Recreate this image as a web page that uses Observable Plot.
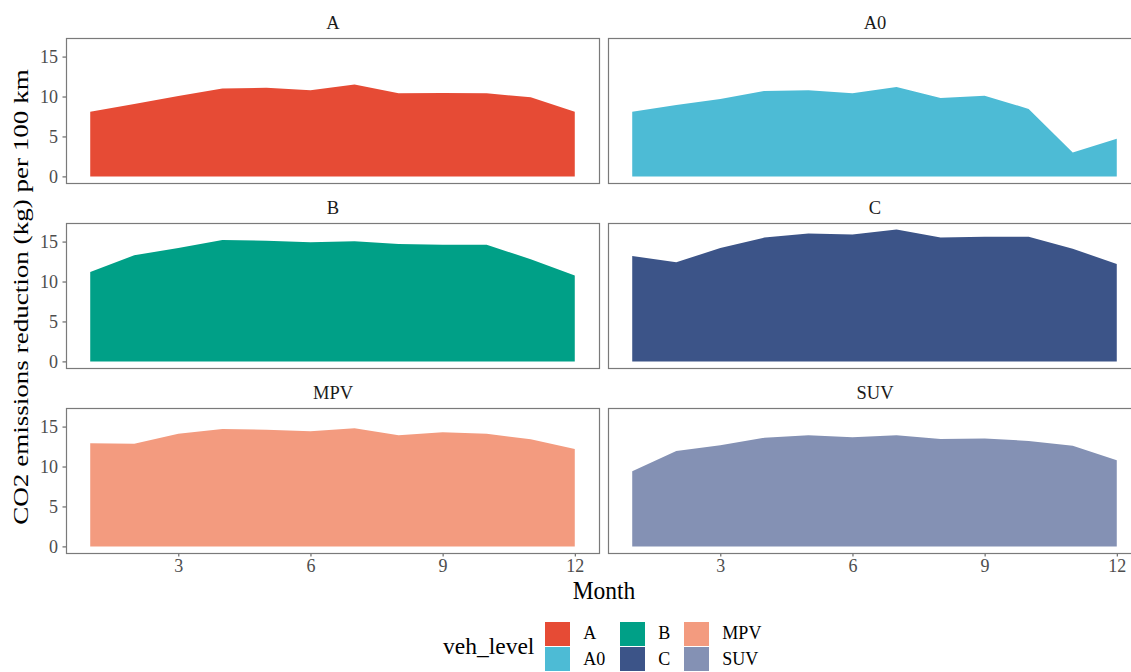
<!DOCTYPE html>
<html>
<head>
<meta charset="utf-8">
<script src="https://cdn.jsdelivr.net/npm/d3@7"></script>
<script src="https://cdn.jsdelivr.net/npm/@observablehq/plot@0.6"></script>
<style>
  html, body { margin: 0; padding: 0; background: #fff; overflow: hidden; }
  #wrap { position: relative; width: 1131px; height: 672px; overflow: hidden; font-family: "Liberation Serif", "Times New Roman", serif; }
  #chart svg { max-width: none !important; }
  #ytitle { position: absolute; left: 21px; top: 297px; transform: translate(-50%, -50%) rotate(-90deg) scaleX(1.23); white-space: nowrap; font-size: 22px; color: #000; }
  #xtitle { position: absolute; left: 604px; top: 591px; transform: translate(-50%, -50%) scaleY(1.1); white-space: nowrap; font-size: 23.5px; color: #000; }
  #legend { position: absolute; left: 443px; top: 621px; height: 51px; display: flex; align-items: center; }
  #legend .ttl { font-size: 23.5px; color: #000; margin-right: 11px; }
  #legend .col { display: flex; flex-direction: column; }
  #legend .item { display: flex; align-items: center; height: 25.5px; }
  #legend .sw { width: 25px; height: 24px; margin-right: 13px; }
  #legend .lab { font-size: 18px; color: #000; }
</style>
</head>
<body>
<div id="wrap">
  <div id="chart"></div>
  <div id="ytitle"></div>
  <div id="xtitle"></div>
  <div id="legend"></div>
</div>
<script>
const months = [1, 2, 3, 4, 5, 6, 7, 8, 9, 10, 11, 12];
const levels = ["A", "A0", "B", "C", "MPV", "SUV"];
const colors = ["#E64B35", "#4DBBD5", "#00A087", "#3C5488", "#F39B7F", "#8491B4"];
const xTicks = [3, 6, 9, 12];
const yTicks = [0, 5, 10, 15];
const yTitle = "CO2 emissions reduction (kg) per 100 km";
const xTitle = "Month";
const legendTitle = "veh_level";

const valA   = [8.1, 9.07, 10.07, 11.0, 11.1, 10.8, 11.5, 10.4, 10.45, 10.4, 9.9, 8.1];
const valA0  = [8.1, 8.95, 9.7, 10.7, 10.8, 10.4, 11.2, 9.8, 10.1, 8.45, 3.0, 4.7];
const valB   = [11.2, 13.3, 14.2, 15.2, 15.1, 14.9, 15.05, 14.7, 14.6, 14.6, 12.8, 10.75];
const valC   = [13.2, 12.4, 14.2, 15.5, 16.0, 15.9, 16.5, 15.5, 15.6, 15.6, 14.1, 12.2];
const valMPV = [12.9, 12.85, 14.1, 14.7, 14.6, 14.4, 14.8, 13.9, 14.3, 14.1, 13.4, 12.2];
const valSUV = [9.4, 11.95, 12.65, 13.6, 13.9, 13.65, 13.9, 13.45, 13.5, 13.2, 12.6, 10.8];

const series = [valA, valA0, valB, valC, valMPV, valSUV];

const panels = levels.map((level, i) => ({ level, col: i % 2, row: Math.floor(i / 2) }));
const table = [];
panels.forEach((p, i) => {
  months.forEach((m, j) => table.push({ level: p.level, col: p.col, row: p.row, month: m, value: series[i][j] }));
});

const ymax = d3.max(table, d => d.value);
const xmin = d3.min(months), xmax = d3.max(months);
const xpad = (xmax - xmin) * 0.05;

const chart = Plot.plot({
  width: 1145,
  height: 600,
  marginLeft: 66,
  marginRight: 3,
  marginTop: 37,
  marginBottom: 47,
  style: { fontFamily: "Liberation Serif, Times New Roman, serif", fontSize: "18px", color: "#4D4D4D", background: "white", overflow: "visible", maxWidth: "none" },
  x: { domain: [xmin - xpad, xmax + xpad], ticks: xTicks, tickSize: 3.5, tickPadding: 2, label: null },
  y: { domain: [-0.05 * ymax, 1.05 * ymax], ticks: yTicks, tickSize: 3.5, tickPadding: 5, label: null },
  fx: { axis: null, paddingInner: 0.0166, paddingOuter: 0 },
  fy: { axis: null, paddingInner: 0.218, paddingOuter: 0 },
  color: { domain: levels, range: colors },
  marks: [
    Plot.areaY(table, { x: "month", y: "value", fill: "level", fx: "col", fy: "row" }),
    Plot.frame({ stroke: "#7a7a7a", strokeWidth: 1.2 }),
    Plot.text(panels, { fx: "col", fy: "row", text: "level", frameAnchor: "top", lineAnchor: "middle", dy: -15, fill: "#1a1a1a", fontSize: 18.5 })
  ]
});
document.getElementById("chart").appendChild(chart);
document.getElementById("ytitle").textContent = yTitle;
document.getElementById("xtitle").textContent = xTitle;

const color = chart.scale("color");
const leg = document.getElementById("legend");
const t = document.createElement("div");
t.className = "ttl";
t.textContent = legendTitle;
leg.appendChild(t);
const colWidths = [75, 64, null];
for (let c = 0; c < 3; c++) {
  const col = document.createElement("div");
  col.className = "col";
  if (colWidths[c]) col.style.width = colWidths[c] + "px";
  for (let r = 0; r < 2; r++) {
    const lv = levels[c * 2 + r];
    const it = document.createElement("div");
    it.className = "item";
    const sw = document.createElement("div");
    sw.className = "sw";
    sw.style.background = color.apply(lv);
    const lb = document.createElement("span");
    lb.className = "lab";
    lb.textContent = lv;
    it.appendChild(sw);
    it.appendChild(lb);
    col.appendChild(it);
  }
  leg.appendChild(col);
}
</script>
</body>
</html>
